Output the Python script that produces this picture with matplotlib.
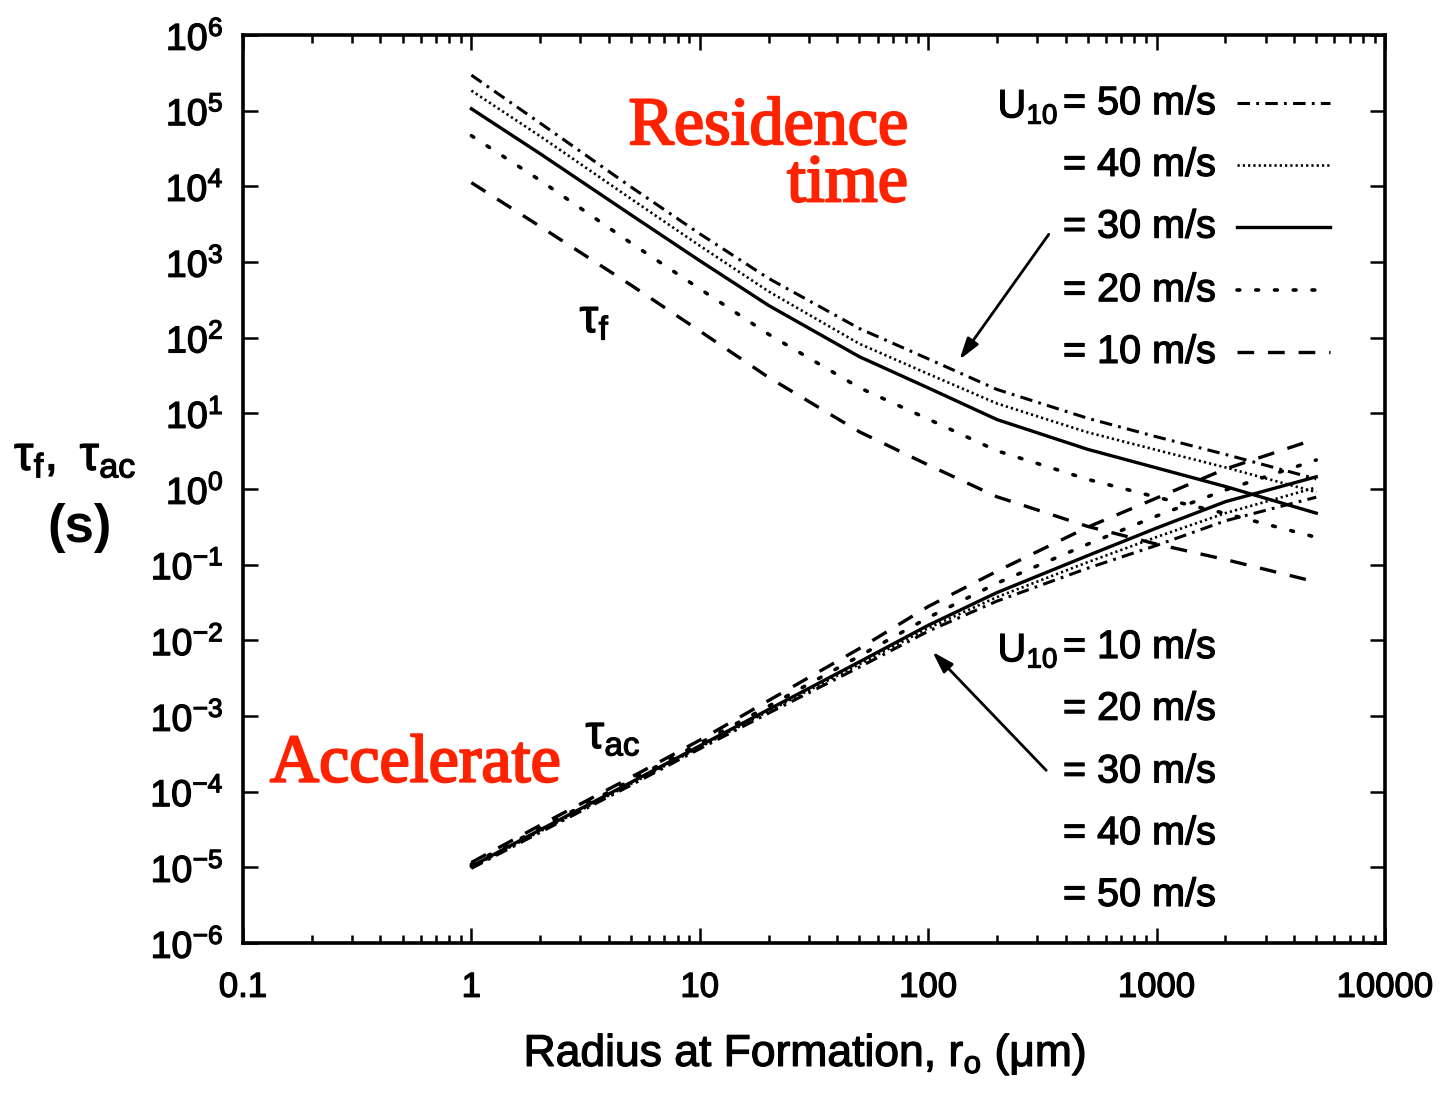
import matplotlib
matplotlib.use('Agg')
import matplotlib.pyplot as plt
import matplotlib.patheffects as pe
import numpy as np
from matplotlib.ticker import FixedLocator, LogLocator, FuncFormatter, NullLocator

plt.rcParams['font.family'] = ['Liberation Sans', 'DejaVu Sans']
plt.rcParams['mathtext.fontset'] = 'custom'
plt.rcParams['mathtext.rm'] = 'Liberation Sans'
plt.rcParams['mathtext.it'] = 'Liberation Sans'
plt.rcParams['mathtext.bf'] = 'Liberation Sans:bold'
plt.rcParams['lines.scale_dashes'] = False

# ---- data ----
radius = [1, 2, 5, 10, 20, 50, 100, 200, 500, 1000, 2000, 5000]   # micrometres
wind_speeds = [50, 40, 30, 20, 10]                                 # U10, m/s

# residence time tau_f (s)
tau_f_50 = [2.95e5, 6.85e4, 9.8e3, 2360, 608, 132, 52.5, 20.7, 8.6, 4.9, 2.87, 1.36]
tau_f_40 = [1.84e5, 4.6e4, 6840, 1640, 409, 83, 33.2, 13.5, 5.6, 3.28, 1.93, 0.91]
tau_f_30 = [1.06e5, 2.7e4, 4.2e3, 1040, 267, 56, 21.7, 8.28, 3.34, 1.90, 1.08, 0.48]
tau_f_20 = [4.67e4, 1.2e4, 1780, 442, 111, 21.8, 8.4, 3.2, 1.34, 0.78, 0.475, 0.23]
tau_f_10 = [1.12e4, 2950, 495, 122.5, 29.9, 5.7, 2.08, 0.79, 0.32, 0.187, 0.117, 0.059]

# acceleration time tau_ac (s)
tau_ac_50 = [9.7e-6, 2.9e-5, 1.22e-4, 3.69e-4, 1.09e-3, 4.43e-3, 0.0132, 0.033, 0.090, 0.18, 0.38, 0.78]
tau_ac_40 = [1.0e-5, 2.99e-5, 1.27e-4, 3.86e-4, 1.16e-3, 4.84e-3, 0.0145, 0.0373, 0.108, 0.232, 0.48, 1.05]
tau_ac_30 = [1.03e-5, 3.13e-5, 1.33e-4, 4.04e-4, 1.22e-3, 5.2e-3, 0.0158, 0.0428, 0.132, 0.305, 0.68, 1.45]
tau_ac_20 = [1.10e-5, 3.28e-5, 1.42e-4, 4.37e-4, 1.35e-3, 6.2e-3, 0.020, 0.057, 0.187, 0.44, 0.97, 2.42]
tau_ac_10 = [1.16e-5, 3.6e-5, 1.55e-4, 4.8e-4, 1.6e-3, 7.8e-3, 0.028, 0.082, 0.314, 0.76, 1.84, 4.6]

x_tick_values = [0.1, 1, 10, 100, 1000, 10000]
x_tick_labels = ['0.1', '1', '10', '100', '1000', '10000']
y_exponents = list(range(-6, 7))

tau_f = {50: tau_f_50, 40: tau_f_40, 30: tau_f_30, 20: tau_f_20, 10: tau_f_10}
tau_ac = {50: tau_ac_50, 40: tau_ac_40, 30: tau_ac_30, 20: tau_ac_20, 10: tau_ac_10}

styles = {
    50: dict(linestyle=(0, (9, 4.5, 2, 4.5)), lw=2.2),
    40: dict(linestyle=(0, (1.6, 2.2)), lw=1.9),
    30: dict(linestyle='-', lw=2.4),
    20: dict(linestyle=(0, (2, 11.5)), lw=2.6, dash_capstyle='round'),
    10: dict(linestyle=(0, (12, 10)), lw=2.4),
}

bold_fx = [pe.withStroke(linewidth=0.9, foreground='black')]
red = '#ff2200'
red_fx = [pe.withStroke(linewidth=1.6, foreground=red)]

fig = plt.figure(figsize=(14.48, 10.94), dpi=100)
ax = fig.add_axes([0.1678, 0.138, 0.7887, 0.830])
ax.set_xscale('log')
ax.set_yscale('log')
ax.set_xlim(0.1, 10000)
ax.set_ylim(1e-6, 1e6)

for u in wind_speeds:
    ax.plot(radius, tau_f[u], color='black', solid_joinstyle='round', **styles[u])
    ax.plot(radius, tau_ac[u], color='black', solid_joinstyle='round', **styles[u])

ax.xaxis.set_major_locator(FixedLocator(x_tick_values))
ax.xaxis.set_major_formatter(FuncFormatter(lambda v, p: x_tick_labels[x_tick_values.index(v)] if v in x_tick_values else ''))
ax.xaxis.set_minor_locator(LogLocator(base=10, subs=np.arange(2, 10), numticks=30))
ax.yaxis.set_major_locator(FixedLocator([10.0 ** e for e in y_exponents]))
ax.yaxis.set_major_formatter(FuncFormatter(lambda v, p: r'$\mathregular{10^{%d}}$' % int(round(np.log10(v)))))
ax.yaxis.set_minor_locator(NullLocator())

ax.tick_params(which='both', direction='in', top=True, right=True, width=1.8)
ax.tick_params(which='major', length=11)
ax.tick_params(which='minor', length=6)
ax.tick_params(axis='x', which='major', labelsize=25, pad=20)
ax.tick_params(axis='y', which='major', labelsize=27, pad=14)
for lab in ax.get_xticklabels() + ax.get_yticklabels():
    lab.set_path_effects(bold_fx)
for s in ax.spines.values():
    s.set_linewidth(2.6)

# upper legend (residence time)
tr = ax.transAxes
fs_leg = 28.5
upper_rows = [0.925, 0.857, 0.789, 0.719, 0.651]
for u, yy in zip(wind_speeds, upper_rows):
    ax.text(0.718, yy, '= %d m/s' % u, transform=tr, fontsize=fs_leg, ha='left', va='center',
            path_effects=bold_fx)
    ax.plot([0.870, 0.952], [yy, yy], transform=tr, color='black', **styles[u])
ax.text(0.714, upper_rows[0] - 0.004, r'U$_{\mathregular{10}}$', transform=tr, fontsize=fs_leg, ha='right',
        va='center', path_effects=bold_fx)

lower_rows = [0.326, 0.258, 0.189, 0.121, 0.053]
for u, yy in zip(wind_speeds[::-1], lower_rows):
    ax.text(0.718, yy, '= %d m/s' % u, transform=tr, fontsize=fs_leg, ha='left', va='center',
            path_effects=bold_fx)
ax.text(0.714, lower_rows[0] - 0.004, r'U$_{\mathregular{10}}$', transform=tr, fontsize=fs_leg, ha='right',
        va='center', path_effects=bold_fx)

# arrows
arrow_kw = dict(arrowstyle='-|>,head_length=1.3,head_width=0.4', color='black', lw=2.0)
ax.annotate('', xy=(0.626, 0.640), xytext=(0.707, 0.783), xycoords=tr, textcoords=tr, arrowprops=arrow_kw)
ax.annotate('', xy=(0.602, 0.323), xytext=(0.705, 0.188), xycoords=tr, textcoords=tr, arrowprops=arrow_kw)

# curve labels
ax.text(0.308, 0.686, r'$\mathregular{τ_{f}}$', transform=tr, fontsize=34, ha='center', va='center',
        path_effects=bold_fx)
ax.text(0.324, 0.228, r'$\mathregular{τ_{ac}}$', transform=tr, fontsize=34, ha='center', va='center',
        path_effects=bold_fx)

ax.text(0.582, 0.898, 'Residence', transform=tr, fontsize=49, color=red, ha='right', va='center',
        family='Liberation Serif', path_effects=red_fx)
ax.text(0.582, 0.835, 'time', transform=tr, fontsize=49, color=red, ha='right', va='center',
        family='Liberation Serif', path_effects=red_fx)
ax.text(0.0236, 0.196, 'Accelerate', transform=tr, fontsize=49, color=red, ha='left', va='center',
        family='Liberation Serif', path_effects=red_fx)

# axis labels
fig.text(0.052, 0.582, r'$\mathregular{τ_{f},\ τ_{ac}}$', fontsize=35, ha='center', va='center',
         path_effects=bold_fx)
fig.text(0.055, 0.517, '(s)', fontsize=38, ha='center', va='center', fontweight='bold')
fig.text(0.556, 0.036, r'Radius at Formation, r$_{\mathregular{o}}$ (μm)', fontsize=32, ha='center',
         va='center', path_effects=bold_fx)

fig.savefig('out.png', dpi=100)
